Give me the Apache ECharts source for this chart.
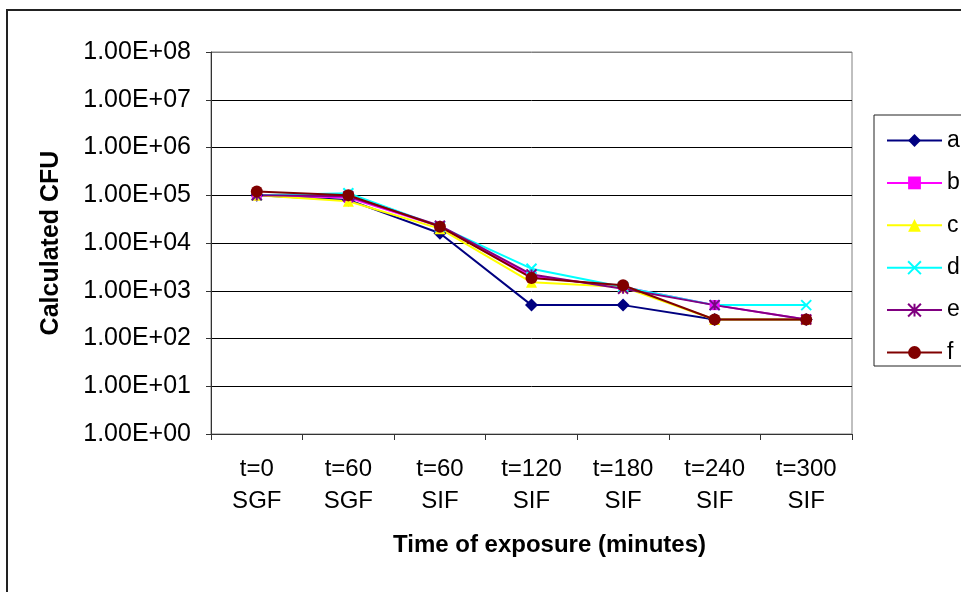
<!DOCTYPE html>
<html>
<head>
<meta charset="utf-8">
<script src="https://cdn.jsdelivr.net/npm/echarts@6/dist/echarts.min.js"></script>
<style>
	html, body { margin: 0; padding: 0; background: #fff; }
	#chart { width: 961px; height: 592px; }
</style>
</head>
<body>
<div id="chart"></div>
<script>
const categories = ['t=0\nSGF', 't=60\nSGF', 't=60\nSIF', 't=120\nSIF', 't=180\nSIF', 't=240\nSIF', 't=300\nSIF'];

const seriesA = [1.0e5, 8.0e4, 1.6e4, 500, 500, 250, 250];
const seriesB = [1.0e5, 9.0e4, 2.2e4, 2.0e3, 1.2e3, 500, 250];
const seriesC = [1.0e5, 7.5e4, 2.0e4, 1.5e3, 1.2e3, 250, 250];
const seriesD = [1.0e5, 1.1e5, 2.2e4, 2.9e3, 1.2e3, 500, 500];
const seriesE = [1.0e5, 9.5e4, 2.3e4, 2.2e3, 1.1e3, 500, 250];
const seriesF = [1.2e5, 1.0e5, 2.2e4, 1.85e3, 1.3e3, 250, 250];

const fontFamily = '"Liberation Sans", Arial, sans-serif';

const crossPath = 'path://M0,0L10,10M10,0L0,10';
const starPath = 'path://M5,0L5,10M0,0L10,10M10,0L0,10';

function makeSeries(name, data, color, symbol, size, stroke) {
	return {
		name: name,
		type: 'line',
		data: data,
		symbol: symbol,
		symbolSize: size,
		lineStyle: { color: color, width: 2 },
		itemStyle: stroke
			? { color: color, borderColor: color, borderWidth: 2 }
			: { color: color, borderWidth: 0 }
	};
}

const chart = echarts.init(document.getElementById('chart'));

const option = {
	animation: false,
	textStyle: { fontFamily: fontFamily },
	grid: { left: 211, top: 52, right: 109, bottom: 158, show: true, borderColor: '#808080', borderWidth: 1 },
	legend: {
		orient: 'vertical',
		left: 881,
		top: 124,
		itemWidth: 55,
		itemHeight: 16,
		itemGap: 19.4,
		textStyle: { fontSize: 23, color: '#000', fontFamily: fontFamily, lineHeight: 22 },
		data: ['a', 'b', 'c', 'd', 'e', 'f']
	},
	xAxis: {
		type: 'category',
		data: categories,
		boundaryGap: true,
		axisLine: { lineStyle: { color: '#333', width: 1 } },
		axisTick: { show: true, length: 6, interval: 0, lineStyle: { color: '#333' } },
		axisLabel: { interval: 0, fontSize: 24, color: '#000', lineHeight: 32, margin: 19 },
		name: 'Time of exposure (minutes)',
		nameLocation: 'middle',
		nameGap: 99,
		nameTextStyle: { fontSize: 24, fontWeight: 'bold', color: '#000', padding: [0, 0, 0, 36] }
	},
	yAxis: {
		type: 'log',
		logBase: 10,
		min: 1,
		max: 1e8,
		interval: 1,
		axisLine: { show: true, lineStyle: { color: '#333', width: 1 } },
		axisTick: { show: true, length: 5, lineStyle: { color: '#333' } },
		splitLine: {
			show: true,
			lineStyle: { color: ['#000', '#000', '#000', '#000', '#000', '#000', '#000', '#000', '#808080'], width: 1 }
		},
		axisLabel: {
			fontSize: 25,
			color: '#000',
			margin: 20,
			formatter: function (v) {
				const e = Math.round(Math.log10(v));
				return '1.00E+' + String(e).padStart(2, '0');
			}
		},
		name: 'Calculated CFU',
		nameLocation: 'middle',
		nameGap: 147,
		nameTextStyle: { fontSize: 25, fontWeight: 'bold', color: '#000' }
	},
	graphic: [
		{
			type: 'rect',
			shape: { x: 7, y: 10, width: 1000, height: 700 },
			style: { fill: 'none', stroke: '#222', lineWidth: 2 },
			silent: true,
			z: -1
		},
		{
			type: 'rect',
			shape: { x: 874, y: 115, width: 200, height: 251 },
			style: { fill: '#fff', stroke: '#222', lineWidth: 1 },
			silent: true,
			z: -1
		}
	],
	series: [
		makeSeries('a', seriesA, '#000080', 'diamond', 13, false),
		makeSeries('b', seriesB, '#FF00FF', 'rect', 10, false),
		makeSeries('c', seriesC, '#FFFF00', 'triangle', 11, false),
		makeSeries('d', seriesD, '#00FFFF', crossPath, 10, true),
		makeSeries('e', seriesE, '#800080', starPath, 10, true),
		makeSeries('f', seriesF, '#800000', 'circle', 12, false)
	]
};

chart.setOption(option);
</script>
</body>
</html>
